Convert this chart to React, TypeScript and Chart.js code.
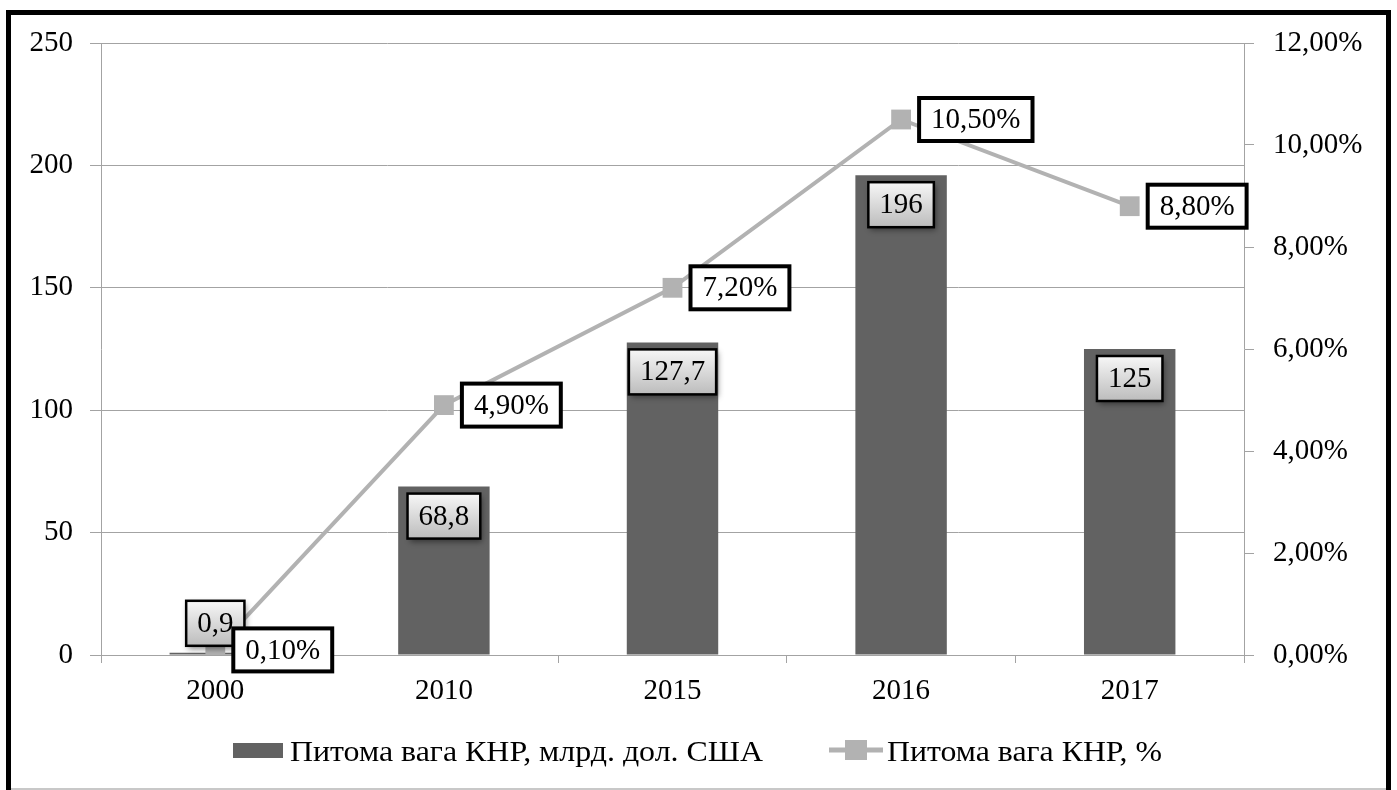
import React, { useEffect, useRef } from "react";
import { Chart, registerables } from "chart.js";

Chart.register(...registerables);

const categories = ["2000", "2010", "2015", "2016", "2017"];
const valuesBn = [0.9, 68.8, 127.7, 196, 125];
const sharePct = [0.1, 4.9, 7.2, 10.5, 8.8];
const leftAxis = { min: 0, max: 250, step: 50 };
const rightAxis = { min: 0, max: 12, step: 2 };
const seriesNames = ["Питома вага КНР, млрд. дол. США", "Питома вага КНР, %"];

const FONT = '"Liberation Serif", "Times New Roman", serif';
const BAR_COLOR = "#626262";
const LINE_COLOR = "#b2b2b2";
const GRID_COLOR = "#a3a3a3";

const fmtPct = (v: number) => v.toFixed(2).replace(".", ",") + "%";
const fmtBar = (v: number) => String(v).replace(".", ",");

const decorPlugin = {
  id: "decor",
  beforeDraw(chart: any) {
    const ctx = chart.ctx;
    ctx.save();
    ctx.fillStyle = "#fff";
    ctx.fillRect(0, 0, chart.width, chart.height);
    ctx.restore();
  },
  afterDraw(chart: any) {
    const ctx = chart.ctx;
    ctx.save();
    // bar labels
    const barMeta = chart.getDatasetMeta(0);
    ctx.font = `29px ${FONT}`;
    barMeta.data.forEach((bar: any, i: number) => {
      const text = fmtBar(valuesBn[i]);
      const tw = ctx.measureText(text).width;
      const w = tw + 22;
      const h = 45;
      const x = bar.x - w / 2;
      let y = bar.y + 7;
      if (bar.base - bar.y < h + 14) y = bar.y - 7 - h;
      ctx.save();
      ctx.shadowColor = "rgba(0,0,0,0.45)";
      ctx.shadowBlur = 6;
      ctx.shadowOffsetX = 2;
      ctx.shadowOffsetY = 3;
      const g = ctx.createLinearGradient(0, y, 0, y + h);
      g.addColorStop(0, "#f7f7f7");
      g.addColorStop(1, "#bcbcbc");
      ctx.fillStyle = g;
      ctx.fillRect(x, y, w, h);
      ctx.restore();
      ctx.lineWidth = 2.5;
      ctx.strokeStyle = "#000";
      ctx.strokeRect(x, y, w, h);
      ctx.fillStyle = "#000";
      ctx.textAlign = "center";
      ctx.textBaseline = "middle";
      ctx.fillText(text, bar.x, y + h / 2 + 1);
    });
    // line labels
    const lineMeta = chart.getDatasetMeta(1);
    lineMeta.data.forEach((pt: any, i: number) => {
      const text = fmtPct(sharePct[i]);
      const tw = ctx.measureText(text).width;
      const w = tw + 24;
      const h = 43;
      const x = pt.x + 18;
      const y = pt.y - h / 2;
      ctx.fillStyle = "#fff";
      ctx.fillRect(x, y, w, h);
      ctx.lineWidth = 4;
      ctx.strokeStyle = "#000";
      ctx.strokeRect(x, y, w, h);
      ctx.fillStyle = "#000";
      ctx.textAlign = "center";
      ctx.textBaseline = "middle";
      ctx.fillText(text, x + w / 2, y + h / 2 + 1);
    });

    // legend
    ctx.fillStyle = BAR_COLOR;
    ctx.fillRect(233, 743, 50, 15);
    ctx.font = `30px ${FONT}`;
    ctx.textAlign = "left";
    ctx.textBaseline = "alphabetic";
    const drawFit = (text: string, x: number, baseY: number, target: number) => {
      const mw = ctx.measureText(text).width;
      ctx.save();
      ctx.translate(x, baseY);
      ctx.scale(target / mw, 1);
      ctx.fillStyle = "#000";
      ctx.fillText(text, 0, 0);
      ctx.restore();
    };
    drawFit(seriesNames[0], 290, 761, 473);
    ctx.strokeStyle = LINE_COLOR;
    ctx.lineWidth = 5;
    ctx.beginPath();
    ctx.moveTo(829, 750);
    ctx.lineTo(883, 750);
    ctx.stroke();
    ctx.fillStyle = LINE_COLOR;
    ctx.fillRect(845, 740, 22, 20);
    drawFit(seriesNames[1], 887, 761, 275);

    // frame
    ctx.strokeStyle = "#000";
    ctx.lineWidth = 5;
    ctx.beginPath();
    ctx.moveTo(8.5, 790);
    ctx.lineTo(8.5, 12.5);
    ctx.lineTo(1388.5, 12.5);
    ctx.lineTo(1388.5, 790);
    ctx.stroke();
    ctx.strokeStyle = "#c8c8c8";
    ctx.lineWidth = 2;
    ctx.beginPath();
    ctx.moveTo(11, 789);
    ctx.lineTo(1386, 789);
    ctx.stroke();
    ctx.restore();
  },
};

export default function App() {
  const ref = useRef<HTMLCanvasElement | null>(null);
  useEffect(() => {
    if (!ref.current) return;
    const font = { family: FONT, size: 29 };
    const chart = new Chart(ref.current, {
      type: "bar",
      data: {
        labels: categories,
        datasets: [
          {
            type: "bar",
            label: seriesNames[0],
            data: valuesBn,
            backgroundColor: BAR_COLOR,
            barPercentage: 0.4,
            categoryPercentage: 1.0,
            yAxisID: "y",
            order: 1,
          },
          {
            type: "line",
            label: seriesNames[1],
            data: sharePct,
            borderColor: LINE_COLOR,
            backgroundColor: LINE_COLOR,
            borderWidth: 4,
            pointStyle: "rect",
            pointRadius: 14,
            pointBorderWidth: 0,
            pointBackgroundColor: LINE_COLOR,
            tension: 0,
            yAxisID: "y1",
            order: 0,
          },
        ],
      } as any,
      options: {
        responsive: false,
        animation: false,
        layout: { padding: { top: 43, bottom: 0, left: 0, right: 0 } },
        plugins: { legend: { display: false }, tooltip: { enabled: false } },
        scales: {
          x: {
            grid: { offset: true, drawOnChartArea: false, drawTicks: true, tickLength: 8, color: GRID_COLOR },
            border: { color: GRID_COLOR },
            ticks: { font, color: "#000", padding: 11 },
            afterFit: (s: any) => {
              s.height = 135;
            },
          },
          y: {
            position: "left",
            min: leftAxis.min,
            max: leftAxis.max,
            ticks: { stepSize: leftAxis.step, padding: 17, font, color: "#000" },
            grid: { color: GRID_COLOR, tickLength: 11 },
            border: { color: GRID_COLOR },
            afterFit: (s: any) => {
              s.width = 101;
            },
          },
          y1: {
            position: "right",
            min: rightAxis.min,
            max: rightAxis.max,
            ticks: {
              stepSize: rightAxis.step,
              padding: 19,
              font,
              color: "#000",
              callback: (v: any) => fmtPct(Number(v)),
            },
            grid: { drawOnChartArea: false, tickLength: 10, color: GRID_COLOR },
            border: { color: GRID_COLOR },
            afterFit: (s: any) => {
              s.width = 153;
            },
          },
        },
      } as any,
      plugins: [decorPlugin],
    });
    return () => chart.destroy();
  }, []);
  return (
    <div style={{ position: "fixed", left: 0, top: 0, width: 1397, height: 790 }}>
      <canvas ref={ref} width={1397} height={790} style={{ width: 1397, height: 790, display: "block" }} />
    </div>
  );
}
